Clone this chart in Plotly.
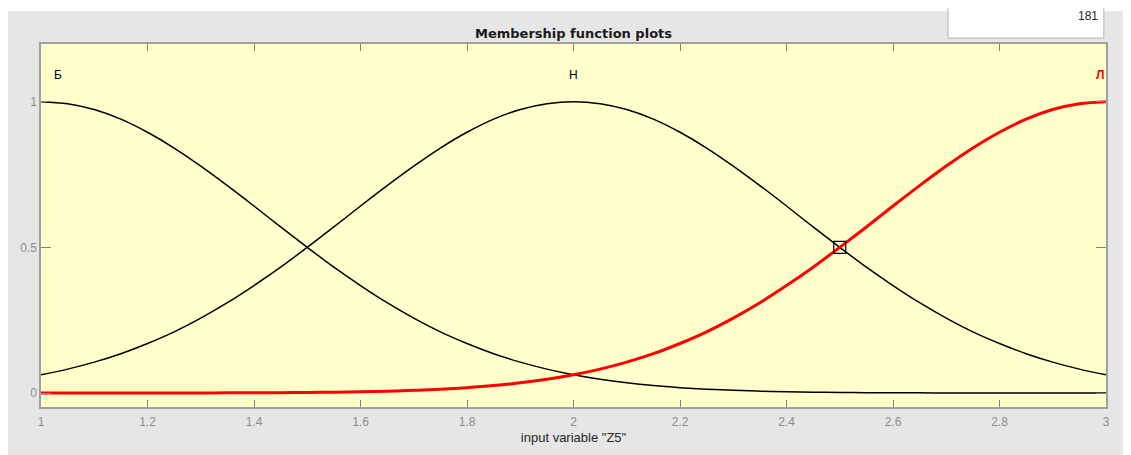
import plotly.graph_objects as go

# input variable Z5, sampled every 0.05
x_vals = [1.0, 1.05, 1.1, 1.15, 1.2, 1.25, 1.3, 1.35, 1.4, 1.45, 1.5,
          1.55, 1.6, 1.65, 1.7, 1.75, 1.8, 1.85, 1.9, 1.95, 2.0,
          2.05, 2.1, 2.15, 2.2, 2.25, 2.3, 2.35, 2.4, 2.45, 2.5,
          2.55, 2.6, 2.65, 2.7, 2.75, 2.8, 2.85, 2.9, 2.95, 3.0]

# membership values
mf_b = [1.0, 0.993, 0.973, 0.940, 0.895, 0.841, 0.779, 0.712, 0.642, 0.570, 0.5,
        0.432, 0.369, 0.310, 0.257, 0.210, 0.170, 0.135, 0.106, 0.082, 0.0625,
        0.047, 0.035, 0.0256, 0.0185, 0.0131, 0.0092, 0.0064, 0.0044, 0.0029, 0.002,
        0.0013, 0.0008, 0.0005, 0.0003, 0.0002, 0.0001, 0.00007, 0.00005, 0.00003, 0.00002]
mf_h = [0.0625, 0.082, 0.106, 0.135, 0.170, 0.210, 0.257, 0.310, 0.369, 0.432, 0.5,
        0.570, 0.642, 0.712, 0.779, 0.841, 0.895, 0.940, 0.973, 0.993, 1.0,
        0.993, 0.973, 0.940, 0.895, 0.841, 0.779, 0.712, 0.642, 0.570, 0.5,
        0.432, 0.369, 0.310, 0.257, 0.210, 0.170, 0.135, 0.106, 0.082, 0.0625]
mf_l = [0.00002, 0.00003, 0.00005, 0.00007, 0.0001, 0.0002, 0.0003, 0.0005, 0.0008, 0.0013, 0.002,
        0.0029, 0.0044, 0.0064, 0.0092, 0.0131, 0.0185, 0.0256, 0.035, 0.047, 0.0625,
        0.082, 0.106, 0.135, 0.170, 0.210, 0.257, 0.310, 0.369, 0.432, 0.5,
        0.570, 0.642, 0.712, 0.779, 0.841, 0.895, 0.940, 0.973, 0.993, 1.0]

mf_names = ["Б", "Н", "Л"]
x_ticks = [1, 1.2, 1.4, 1.6, 1.8, 2, 2.2, 2.4, 2.6, 2.8, 3]
y_ticks = [0, 0.5, 1]
marker_pt = (2.5, 0.5)
current_value = "181"

FONT = "Liberation Sans, Arial, sans-serif"
GRAY_BG = "#e6e6e6"

fig = go.Figure()
fig.add_trace(go.Scatter(x=x_vals, y=mf_b, mode="lines", line=dict(color="black", width=1.5, shape="spline")))
fig.add_trace(go.Scatter(x=x_vals, y=mf_h, mode="lines", line=dict(color="black", width=1.5, shape="spline")))
fig.add_trace(go.Scatter(x=x_vals, y=mf_l, mode="lines", line=dict(color="#ff0000", width=3, shape="spline")))
fig.add_trace(go.Scatter(x=[marker_pt[0]], y=[marker_pt[1]], mode="markers",
                         marker=dict(symbol="square-open", size=12, color="black", line=dict(width=1.2))))

# curve labels (the selected one, Л, is red and bold)
fig.add_annotation(x=1.02, y=1.09, text=mf_names[0], showarrow=False, xanchor="left",
                   font=dict(family=FONT, size=12, color="black"))
fig.add_annotation(x=2, y=1.09, text=mf_names[1], showarrow=False, xanchor="center",
                   font=dict(family=FONT, size=12, color="black"))
fig.add_annotation(x=3, y=1.09, text=f"<b>{mf_names[2]}</b>", showarrow=False, xanchor="right",
                   font=dict(family=FONT, size=12, color="#ff0000"))

# title
fig.add_annotation(x=0.5, y=1.0, xref="paper", yref="paper", yanchor="bottom", yshift=1,
                   text="<b>Membership function plots</b>", showarrow=False,
                   font=dict(family="DejaVu Sans, sans-serif", size=13, color="#1a1a1a"))

# thin white strip on top, and the value box top right
fig.add_shape(type="rect", xref="paper", yref="paper", x0=-0.05, x1=1.05, y0=1.0904, y1=1.2,
              fillcolor="white", line_width=0, layer="below")
fig.add_shape(type="rect", xref="paper", yref="paper", x0=0.8516, x1=0.998, y0=1.0164, y1=1.13,
              fillcolor="white", line=dict(color="#b4b4b4", width=1), layer="above")
fig.add_annotation(x=0.994, y=1.078, xref="paper", yref="paper", xanchor="right", yanchor="middle",
                   text=current_value, showarrow=False, font=dict(family=FONT, size=12, color="#262626"))

fig.update_xaxes(range=[1, 3], tickvals=x_ticks, ticktext=[f"{v:g}" for v in x_ticks],
                 showgrid=False, zeroline=False, showline=True, mirror="ticks",
                 linecolor="#a0a0a0", linewidth=1.5, ticks="inside", ticklen=7, tickcolor="#808080",
                 ticklabelstandoff=3,
                 tickfont=dict(family=FONT, size=12, color="#8c8c8c"),
                 title=dict(text='input variable "Z5"', standoff=5,
                            font=dict(family=FONT, size=13, color="#262626")))
fig.update_yaxes(range=[-0.048, 1.198], tickvals=y_ticks, ticktext=["0", "0.5", "1"],
                 showgrid=False, zeroline=False, showline=True, mirror="ticks",
                 linecolor="#a0a0a0", linewidth=1.5, ticks="inside", ticklen=10, tickcolor="#808080",
                 tickfont=dict(family=FONT, size=12, color="#8c8c8c"))

# page body keeps its 8px margin, so the figure is 8px smaller than the window
fig.update_layout(width=1123, height=447, showlegend=False,
                  margin=dict(l=33, r=25, t=36, b=46),
                  paper_bgcolor=GRAY_BG, plot_bgcolor="#ffffcc",
                  font=dict(family=FONT))

fig.write_html("out.html")
